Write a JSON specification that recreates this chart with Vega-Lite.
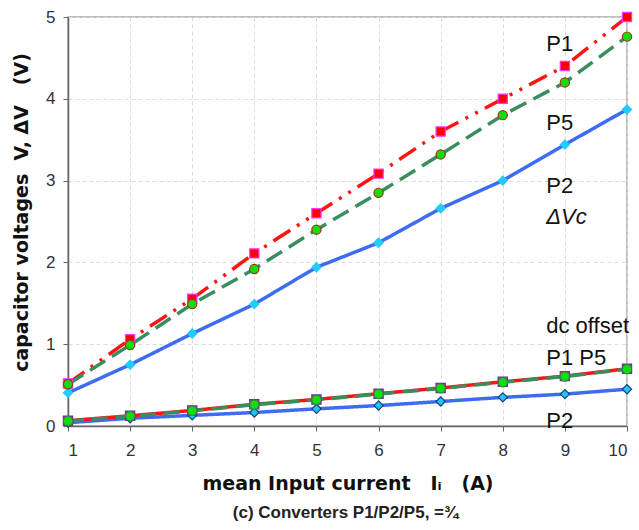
{
  "$schema": "https://vega.github.io/schema/vega-lite/v6.json",
  "autosize": "none",
  "width": 559,
  "height": 409,
  "padding": {"left": 68, "top": 17, "right": 12, "bottom": 104},
  "background": "white",
  "title": {"text": "(c) Converters P1/P2/P5, =¾", "orient": "bottom", "anchor": "middle", "font": "Liberation Sans", "fontSize": 17, "fontWeight": "bold", "color": "#222", "offset": 12, "dx": -2},
  "config": {
    "view": {"stroke": "#aaaaaa", "strokeWidth": 1.5},
    "axis": {"labelFont": "Liberation Sans", "labelFontSize": 17, "labelColor": "#333", "titleFont": "DejaVu Sans", "titleFontWeight": "bold", "titleFontSize": 19, "titleColor": "#111", "gridColor": "#dddddd", "gridDash": [4, 3], "gridWidth": 1, "domainColor": "#666", "domainWidth": 1.5, "tickColor": "#666", "tickSize": 5}
  },
  "datasets": {
    "series": [
      {"I": 1, "V": 0.405, "s": "P2"}, {"I": 2, "V": 0.75, "s": "P2"}, {"I": 3, "V": 1.13, "s": "P2"}, {"I": 4, "V": 1.49, "s": "P2"}, {"I": 5, "V": 1.94, "s": "P2"}, {"I": 6, "V": 2.24, "s": "P2"}, {"I": 7, "V": 2.66, "s": "P2"}, {"I": 8, "V": 3.0, "s": "P2"}, {"I": 9, "V": 3.44, "s": "P2"}, {"I": 10, "V": 3.87, "s": "P2"},
      {"I": 1, "V": 0.52, "s": "P1"}, {"I": 2, "V": 1.06, "s": "P1"}, {"I": 3, "V": 1.555, "s": "P1"}, {"I": 4, "V": 2.11, "s": "P1"}, {"I": 5, "V": 2.6, "s": "P1"}, {"I": 6, "V": 3.085, "s": "P1"}, {"I": 7, "V": 3.6, "s": "P1"}, {"I": 8, "V": 4.0, "s": "P1"}, {"I": 9, "V": 4.4, "s": "P1"}, {"I": 10, "V": 5.0, "s": "P1"},
      {"I": 1, "V": 0.51, "s": "P5"}, {"I": 2, "V": 0.99, "s": "P5"}, {"I": 3, "V": 1.49, "s": "P5"}, {"I": 4, "V": 1.92, "s": "P5"}, {"I": 5, "V": 2.4, "s": "P5"}, {"I": 6, "V": 2.85, "s": "P5"}, {"I": 7, "V": 3.32, "s": "P5"}, {"I": 8, "V": 3.8, "s": "P5"}, {"I": 9, "V": 4.2, "s": "P5"}, {"I": 10, "V": 4.76, "s": "P5"},
      {"I": 1, "V": 0.04, "s": "P2dc"}, {"I": 2, "V": 0.095, "s": "P2dc"}, {"I": 3, "V": 0.13, "s": "P2dc"}, {"I": 4, "V": 0.165, "s": "P2dc"}, {"I": 5, "V": 0.21, "s": "P2dc"}, {"I": 6, "V": 0.25, "s": "P2dc"}, {"I": 7, "V": 0.3, "s": "P2dc"}, {"I": 8, "V": 0.35, "s": "P2dc"}, {"I": 9, "V": 0.39, "s": "P2dc"}, {"I": 10, "V": 0.45, "s": "P2dc"},
      {"I": 1, "V": 0.065, "s": "P1dc"}, {"I": 2, "V": 0.125, "s": "P1dc"}, {"I": 3, "V": 0.19, "s": "P1dc"}, {"I": 4, "V": 0.265, "s": "P1dc"}, {"I": 5, "V": 0.325, "s": "P1dc"}, {"I": 6, "V": 0.395, "s": "P1dc"}, {"I": 7, "V": 0.465, "s": "P1dc"}, {"I": 8, "V": 0.54, "s": "P1dc"}, {"I": 9, "V": 0.61, "s": "P1dc"}, {"I": 10, "V": 0.7, "s": "P1dc"},
      {"I": 1, "V": 0.06, "s": "P5dc"}, {"I": 2, "V": 0.12, "s": "P5dc"}, {"I": 3, "V": 0.185, "s": "P5dc"}, {"I": 4, "V": 0.26, "s": "P5dc"}, {"I": 5, "V": 0.32, "s": "P5dc"}, {"I": 6, "V": 0.39, "s": "P5dc"}, {"I": 7, "V": 0.46, "s": "P5dc"}, {"I": 8, "V": 0.535, "s": "P5dc"}, {"I": 9, "V": 0.605, "s": "P5dc"}, {"I": 10, "V": 0.695, "s": "P5dc"}
    ],
    "labels": [
      {"I": 8.7, "V": 4.67, "t": "P1"},
      {"I": 8.7, "V": 3.70, "t": "P5"},
      {"I": 8.7, "V": 2.94, "t": "P2"},
      {"I": 8.7, "V": 1.22, "t": "dc offset"},
      {"I": 8.7, "V": 0.83, "t": "P1 P5"},
      {"I": 8.7, "V": 0.06, "t": "P2"}
    ],
    "italic": [
      {"I": 8.7, "V": 2.55, "t": "ΔVc"}
    ]
  },
  "layer": [
    {
      "data": {"name": "series"},
      "mark": {"type": "line", "strokeWidth": 3.5, "clip": false},
      "encoding": {
        "x": {"field": "I", "type": "quantitative", "scale": {"domain": [1, 10], "nice": false}, "axis": {"values": [1,2,3,4,5,6,7,8,9,10], "format": "d", "title": "mean Input current\u00a0\u00a0\u00a0Iᵢ\u00a0\u00a0\u00a0(A)", "labelPadding": 11, "titlePadding": 16, "grid": true}},
        "y": {"field": "V", "type": "quantitative", "scale": {"domain": [0, 5], "nice": false}, "axis": {"values": [0,1,2,3,4,5], "format": "d", "title": "capacitor voltages\u00a0\u00a0V,\u00a0ΔV\u00a0\u00a0\u00a0(V)", "labelPadding": 8, "titlePadding": 14, "titleY": 195, "grid": true}},
        "detail": {"field": "s"},
        "color": {"field": "s", "type": "nominal", "legend": null, "scale": {"domain": ["P2", "P1", "P5", "P2dc", "P1dc", "P5dc"], "range": ["#3d6cf0", "#ff1414", "#3a8d5e", "#3d6cf0", "#ff1414", "#3a8d5e"]}},
        "strokeDash": {"field": "s", "type": "nominal", "legend": null, "scale": {"domain": ["P2", "P1", "P5", "P2dc", "P1dc", "P5dc"], "range": [[1, 0], [20, 8, 3, 8, 3, 8], [18, 8], [1, 0], [1, 0], [16, 8]]}}
      }
    },
    {
      "data": {"name": "series"},
      "mark": {"type": "point", "filled": true, "opacity": 1, "size": 85, "strokeWidth": 1.2, "clip": false},
      "encoding": {
        "x": {"field": "I", "type": "quantitative"},
        "y": {"field": "V", "type": "quantitative"},
        "shape": {"field": "s", "type": "nominal", "legend": null, "scale": {"domain": ["P2", "P1", "P5", "P2dc", "P1dc", "P5dc"], "range": ["diamond", "square", "circle", "diamond", "square", "circle"]}},
        "fill": {"field": "s", "type": "nominal", "legend": null, "scale": {"domain": ["P2", "P1", "P5", "P2dc", "P1dc", "P5dc"], "range": ["#22ccff", "#ff0000", "#11dd11", "#22c4f4", "#cc3399", "#11dd11"]}},
        "stroke": {"field": "s", "type": "nominal", "legend": null, "scale": {"domain": ["P2", "P1", "P5", "P2dc", "P1dc", "P5dc"], "range": ["#22ccff", "#ff33ff", "#9a3a1a", "#1c3f7a", "#6a2fa0", "#2f8a3a"]}}
      }
    },
    {
      "data": {"name": "labels"},
      "mark": {"type": "text", "align": "left", "baseline": "middle", "font": "Liberation Sans", "fontSize": 22, "color": "#111", "clip": false},
      "encoding": {
        "x": {"field": "I", "type": "quantitative"},
        "y": {"field": "V", "type": "quantitative"},
        "text": {"field": "t"}
      }
    },
    {
      "data": {"name": "italic"},
      "mark": {"type": "text", "align": "left", "baseline": "middle", "font": "Liberation Sans", "fontSize": 22, "fontStyle": "italic", "color": "#111", "clip": false},
      "encoding": {
        "x": {"field": "I", "type": "quantitative"},
        "y": {"field": "V", "type": "quantitative"},
        "text": {"field": "t"}
      }
    }
  ]
}
